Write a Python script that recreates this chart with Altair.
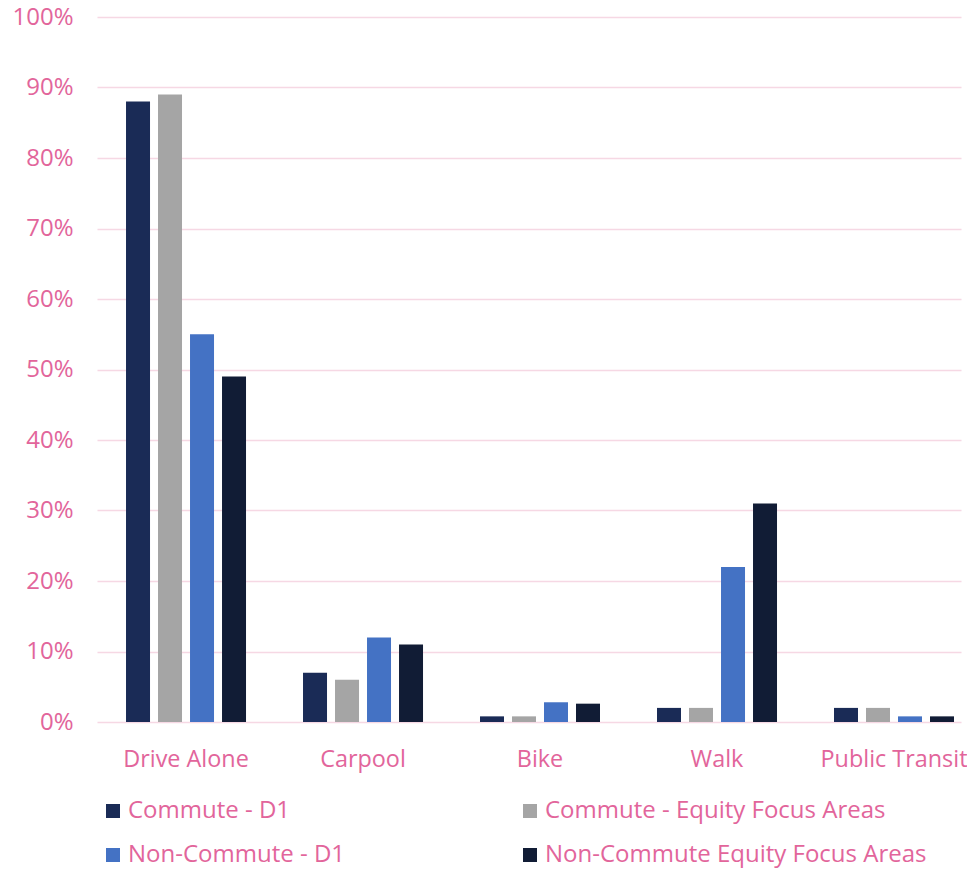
import altair as alt
import pandas as pd

categories = ["Drive Alone", "Carpool", "Bike", "Walk", "Public Transit"]
series = ["Commute - D1", "Commute - Equity Focus Areas",
          "Non-Commute - D1", "Non-Commute Equity Focus Areas"]
commute_d1 = [0.88, 0.07, 0.008, 0.02, 0.02]
commute_efa = [0.89, 0.06, 0.008, 0.02, 0.02]
noncommute_d1 = [0.55, 0.12, 0.028, 0.22, 0.008]
noncommute_efa = [0.49, 0.11, 0.026, 0.31, 0.008]
colors = ["#1a2b56", "#a5a5a5", "#4472c4", "#111c35"]

rows = []
for s, vals in zip(series, [commute_d1, commute_efa, noncommute_d1, noncommute_efa]):
    for c, v in zip(categories, vals):
        rows.append({"mode": c, "series": s, "value": v})
df = pd.DataFrame(rows)

pink = "#e2659b"
grid = "#f6d8e4"
font = "Open Sans"
fs = 24

chart = alt.Chart(df).mark_bar().encode(
    x=alt.X("mode:N", sort=categories, title=None,
            scale=alt.Scale(paddingInner=0.322, paddingOuter=0.1017, align=0.806),
            axis=alt.Axis(labelAngle=0, labelColor=pink, labelFont=font, labelFontSize=23.4,
                          ticks=False, domain=False, labelPadding=26)),
    xOffset=alt.XOffset("series:N", sort=series,
                        scale=alt.Scale(paddingInner=0.25, paddingOuter=0)),
    y=alt.Y("value:Q", title=None,
            scale=alt.Scale(domain=[0, 1]),
            axis=alt.Axis(format=".0%", values=[i / 10 for i in range(11)],
                          labelColor=pink, labelFont=font, labelFontSize=fs,
                          ticks=False, domain=False, labelPadding=24,
                          gridColor=grid, gridWidth=1.5)),
    color=alt.Color("series:N", sort=series,
                    scale=alt.Scale(domain=series, range=colors),
                    legend=alt.Legend(title=None, orient="none", legendX=4, legendY=782,
                                      direction="horizontal",
                                      columns=2, columnPadding=172, rowPadding=20,
                                      symbolType="square", symbolSize=196,
                                      symbolStrokeWidth=0, symbolOpacity=1,
                                      labelColor=pink, labelFont=font, labelFontSize=fs,
                                      labelOffset=3, padding=0, labelLimit=500)),
).properties(
    width=864, height=705,
    autosize=alt.AutoSizeParams(type="none"),
    padding={"left": 89, "top": 9, "right": 6, "bottom": 146},
).configure_view(stroke=None)

chart.save("out.html", embed_options={"renderer": "svg", "actions": False})
